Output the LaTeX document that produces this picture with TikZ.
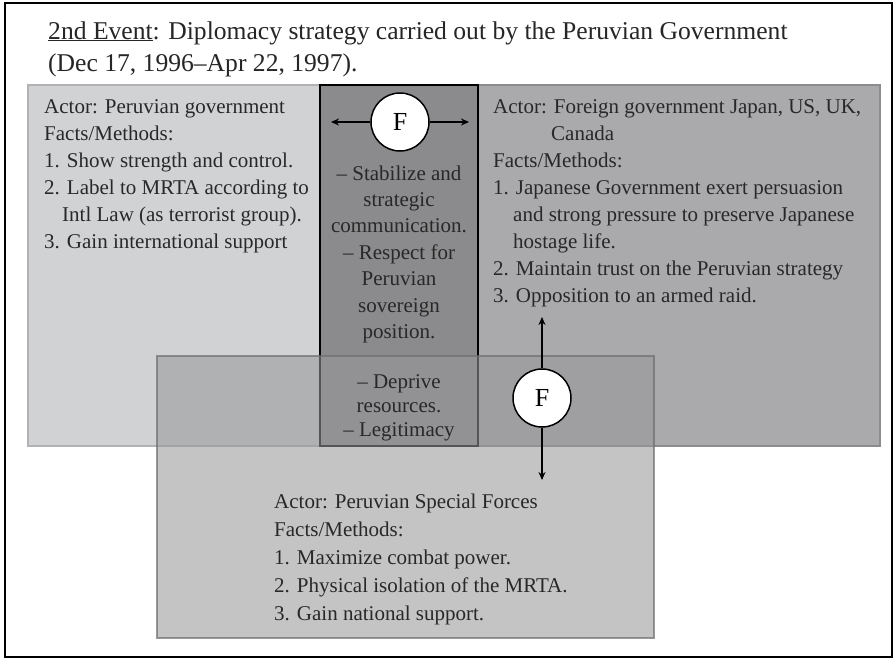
\documentclass[tikz,border=0pt]{standalone}
\usepackage{fontspec}
\setmainfont{Liberation Serif}
\usetikzlibrary{arrows.meta}
\definecolor{leftfill}{RGB}{209,210,212}
\definecolor{leftline}{RGB}{178,178,180}
\definecolor{rightfill}{RGB}{170,170,173}
\definecolor{rightline}{RGB}{140,140,142}
\definecolor{midfill}{RGB}{139,139,141}
\definecolor{botfill}{RGB}{152,152,154}
\definecolor{botline}{RGB}{110,110,112}
\definecolor{txt}{RGB}{40,40,40}
\tikzset{
  frame/.style={draw=black, line width=2pt},
  leftbox/.style={fill=leftfill, draw=leftline, line width=2pt},
  rightbox/.style={fill=rightfill, draw=rightline, line width=2pt},
  midbox/.style={fill=midfill, draw=black, line width=1.5pt},
  botbox/.style={fill=botfill, fill opacity=0.565, draw=botline, draw opacity=0.7, line width=2pt},
  fcircle/.style={circle, draw=black, fill=white, line width=1.5pt, minimum size=58pt, inner sep=0pt, font=\fontsize{26}{30}\selectfont, text=black},
  conn/.style={line width=1.4pt, -{Stealth[length=8pt, width=7pt]}},
  bodytext/.style={inner sep=0pt, text=txt, align=left, font=\fontsize{21}{27}\selectfont},
  bottext/.style={inner sep=0pt, text=txt, align=left, font=\fontsize{21}{28}\selectfont},
  midtext/.style={inner sep=0pt, text=txt, align=center, font=\fontsize{21}{26.4}\selectfont},
  lowtext/.style={inner sep=0pt, text=txt, align=center, font=\fontsize{21}{24}\selectfont},
  titletext/.style={inner sep=0pt, text=black!85, align=left, font=\fontsize{25.6}{32}\selectfont}
}
\begin{document}
\begin{tikzpicture}[x=1pt, y=-1pt]
\useasboundingbox (0,0) rectangle (894,659);
\fill[white] (0,0) rectangle (894,659);
\draw[frame] (5,3) rectangle (892,657);
% boxes
\path[leftbox] (28,85) rectangle (400,446);
\path[rightbox] (400,85) rectangle (880,446);
\path[midbox] (320,85) rectangle (478,446);
\path[botbox] (157,356) rectangle (654,638);
% title (anchored at the baseline of its last line)
\node[titletext, anchor=base west] (title) at (48,71)
  {\underline{2nd Event}: Diplomacy strategy carried out by the Peruvian Government\\
   (Dec 17, 1996--Apr 22, 1997).};
% left text
\node[bodytext, anchor=base west] (lefttext) at (44,248)
  {Actor: Peruvian government\\
   Facts/Methods:\\
   1. Show strength and control.\\
   2. Label to MRTA according to\\
   \hspace*{18pt}Intl Law (as terrorist group).\\
   3. Gain international support};
% right text
\node[bodytext, anchor=base west] (righttext) at (493,302)
  {Actor: Foreign government Japan, US, UK,\\
   \hspace*{58pt}Canada\\
   Facts/Methods:\\
   1. Japanese Government exert persuasion\\
   \hspace*{20pt}and strong pressure to preserve Japanese\\
   \hspace*{20pt}hostage life.\\
   2. Maintain trust on the Peruvian strategy\\
   3. Opposition to an armed raid.};
% middle text
\node[midtext, anchor=base] (midtext) at (399,338.4)
  {-- Stabilize and\\ strategic\\ communication.\\ -- Respect for\\ Peruvian\\ sovereign\\ position.};
\node[lowtext, anchor=base] (lowtext) at (399,436)
  {-- Deprive\\ resources.\\ -- Legitimacy};
% bottom text
\node[bottext, anchor=base west] (bottext) at (274,620)
  {Actor: Peruvian Special Forces\\
   Facts/Methods:\\
   1. Maximize combat power.\\
   2. Physical isolation of the MRTA.\\
   3. Gain national support.};
% circles and arrows
\node[fcircle] (ftop) at (400,122) {F};
\coordinate (ftl) at (331,122);
\coordinate (ftr) at (469,122);
\draw[conn] (ftop.west) -- (ftl);
\draw[conn] (ftop.east) -- (ftr);
\node[fcircle] (fbot) at (542,398) {F};
\coordinate (fbu) at (542,317);
\coordinate (fbd) at (542,480);
\draw[conn] (fbot.north) -- (fbu);
\draw[conn] (fbot.south) -- (fbd);
\end{tikzpicture}
\end{document}
